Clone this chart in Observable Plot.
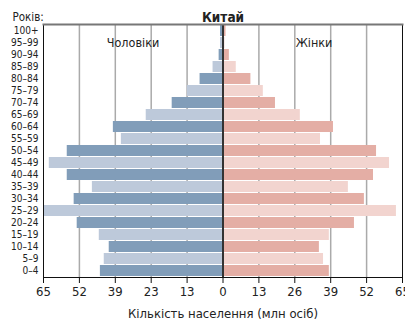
<!DOCTYPE html>
<html>
<head>
<meta charset="utf-8">
<script src="https://cdn.jsdelivr.net/npm/d3@7"></script>
<script src="https://cdn.jsdelivr.net/npm/@observablehq/plot@0.6"></script>
<style>
  html, body { margin: 0; padding: 0; background: #fff; }
  #chart svg { display: block; overflow: visible; font-stretch: condensed; }
  #chart svg text { font-stretch: condensed; }
</style>
</head>
<body>
<div id="chart"></div>
<script>
const ages = ["0–4","5–9","10–14","15–19","20–24","25–29","30–34","35–39","40–44","45–49","50–54","55–59","60–64","65–69","70–74","75–79","80–84","85–89","90–94","95–99","100+"];
const male = [44.4,43.0,41.2,44.8,52.8,64.9,53.9,47.3,56.4,62.9,56.4,36.8,39.7,27.8,18.4,12.9,8.3,3.6,1.4,0.9,0.9];
const female = [38.5,36.4,34.9,38.5,47.6,62.8,51.2,45.4,54.5,60.3,55.6,35.3,40.0,28.0,19.0,14.6,10.1,4.8,2.3,0.7,1.1];
const tickValues = [-65,-52,-39,-26,-13,0,13,26,39,52,65];
const tickLabels = ["65","52","39","23","13","0","13","26","39","52","65"];
const gridValues = [-52,-39,-26,-13,13,26,39,52];
const title = "Китай";
const yLabel = "Років:";
const xLabel = "Кількість населення (млн осіб)";
const maleLabel = "Чоловіки";
const femaleLabel = "Жінки";

const rows = [];
ages.forEach((a, i) => {
  rows.push({age: a, value: -male[i], key: "m" + (i % 2)});
  rows.push({age: a, value: female[i], key: "f" + (i % 2)});
});
const tickMap = new Map(tickValues.map((v, i) => [v, tickLabels[i]]));

const chart = Plot.plot({
  width: 405,
  height: 320,
  marginLeft: 43,
  marginRight: 3,
  marginTop: 24,
  marginBottom: 43,
  style: {fontFamily: "'DejaVu Sans Condensed', 'DejaVu Sans', sans-serif", fontSize: "12px", background: "#fff", color: "#222"},
  x: {domain: [-65, 65]},
  y: {domain: ages.slice().reverse(), paddingInner: 0.12, paddingOuter: 0.06},
  color: {domain: ["m0","m1","f0","f1"], range: ["#819db9","#bdc9da","#e4aea5","#f2d4cf"]},
  marks: [
    Plot.ruleX(gridValues, {stroke: "#aaa", strokeWidth: 1.5}),
    Plot.barX(rows, {x1: 0, x2: "value", y: "age", fill: "key"}),
    Plot.ruleX([0], {stroke: "#333", strokeWidth: 2}),
    Plot.frame({stroke: "#111"}),
    Plot.frame({anchor: "top", stroke: "#777", strokeWidth: 2}),
    Plot.axisX({ticks: tickValues, tickFormat: d => tickMap.get(d), tickSize: 6, tickPadding: 3, fontSize: 13, stroke: "#111",
      label: xLabel, labelAnchor: "center", labelOffset: 40, labelArrow: "none"}),
    Plot.axisY({tickSize: 0, tickPadding: 5, fontSize: 10, label: null}),
    Plot.text([title], {frameAnchor: "top", dy: -12, fontWeight: "bold", fontSize: 13.5, fill: "#222"}),
    Plot.text([yLabel], {frameAnchor: "top-left", dx: -31, dy: -12, textAnchor: "start", fontSize: 11.5, fill: "#222"}),
    Plot.text([maleLabel], {frameAnchor: "top", dx: -90, dy: 14, fontSize: 12.5, fill: "#222"}),
    Plot.text([femaleLabel], {frameAnchor: "top", dx: 91, dy: 14, fontSize: 12.5, fill: "#222"})
  ]
});
document.getElementById("chart").appendChild(chart);
</script>
</body>
</html>
